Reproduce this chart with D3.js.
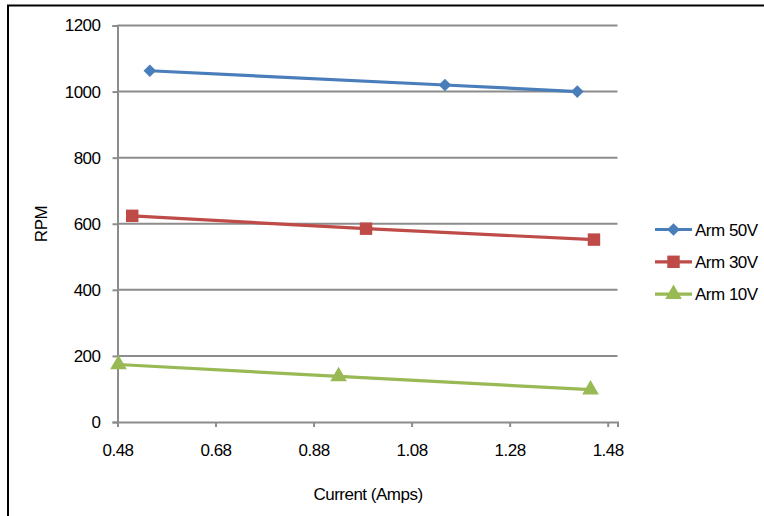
<!DOCTYPE html>
<html><head><meta charset="utf-8">
<script src="https://cdn.jsdelivr.net/npm/d3@7"></script>
<style>body{margin:0;background:#fff}svg{display:block;font-family:"Liberation Sans",Arial,sans-serif}</style>
</head><body><svg id="c" width="764" height="516"></svg>
<script>
const seriesNames = ["Arm 50V", "Arm 30V", "Arm 10V"];
const arm50X = [0.546, 1.148, 1.418];
const arm50Y = [1063, 1020, 1000];
const arm30X = [0.510, 0.987, 1.452];
const arm30Y = [624, 585, 552];
const arm10X = [0.482, 0.931, 1.445];
const arm10Y = [174, 138, 98];
const xTicks = [0.48, 0.68, 0.88, 1.08, 1.28, 1.48];
const yTicks = [0, 200, 400, 600, 800, 1000, 1200];
const xTitle = "Current (Amps)";
const yTitle = "RPM";

const colors = ["#4A7EBB", "#BE4B48", "#98B954"];
const symbols = [d3.symbolSquare, d3.symbolSquare, d3.symbolTriangle];
const symSizes = [80, 155, 120];
const series = [
  {name: seriesNames[0], xs: arm50X, ys: arm50Y},
  {name: seriesNames[1], xs: arm30X, ys: arm30Y},
  {name: seriesNames[2], xs: arm10X, ys: arm10Y}
];
const FS = 17, LS = -0.5;

const svg = d3.select("#c");
svg.append("rect").attr("x",8).attr("y",5.5).attr("width",800).attr("height",600)
  .attr("fill","#fff").attr("stroke","#000").attr("stroke-width",2);

const x = d3.scaleLinear().domain([0.48, 1.50]).range([117.5, 617.5]);
const y = d3.scaleLinear().domain([0, 1200]).range([422, 25.5]);
const grid = "#8c8c8c";

svg.append("g").selectAll("line").data(yTicks.filter(d=>d>0)).join("line")
  .attr("x1",117.5).attr("x2",617.5).attr("y1",d=>y(d)).attr("y2",d=>y(d))
  .attr("stroke",grid).attr("stroke-width",2);

function styleAxis(g){
  g.attr("font-size",FS).attr("font-family","Liberation Sans, Arial, sans-serif");
  g.select(".domain").attr("stroke",grid).attr("stroke-width",2);
  g.selectAll(".tick line").attr("stroke",grid).attr("stroke-width",2);
  g.selectAll("text").attr("font-size",FS).attr("fill","#000").attr("letter-spacing",LS);
}
svg.append("g").attr("transform","translate(117.5,0)")
  .call(d3.axisLeft(y).tickValues(yTicks).tickSize(5).tickPadding(12).tickFormat(d3.format("d")))
  .call(styleAxis);
svg.append("g").attr("transform","translate(0,422)")
  .call(d3.axisBottom(x).tickValues(xTicks).tickSize(5).tickPadding(17).tickFormat(d3.format(".2f")))
  .call(styleAxis);

svg.append("text").attr("x",368).attr("y",499.5).attr("text-anchor","middle")
  .attr("font-size",FS).attr("letter-spacing",LS).text(xTitle);
svg.append("text").attr("transform","translate(47,224) rotate(-90)").attr("text-anchor","middle")
  .attr("font-size",FS).attr("letter-spacing",LS).text(yTitle);

const line = d3.line().x(d=>x(d[0])).y(d=>y(d[1]));
const mk = i => d3.symbol().type(symbols[i]).size(symSizes[i])();
series.forEach((s,i)=>{
  const pts = s.xs.map((v,j)=>[v, s.ys[j]]);
  svg.append("path").attr("d",line(pts)).attr("fill","none")
    .attr("stroke",colors[i]).attr("stroke-width",3.2).attr("stroke-linejoin","round");
  svg.append("g").selectAll("path").data(pts).join("path")
    .attr("transform",d=>`translate(${x(d[0])},${y(d[1])})${i===0?" rotate(45)":""}`)
    .attr("d",mk(i)).attr("fill",colors[i]);
});

const lg = svg.append("g");
series.forEach((s,i)=>{
  const ly = 229.5 + i*32.3;
  lg.append("line").attr("x1",655).attr("x2",692).attr("y1",ly).attr("y2",ly)
    .attr("stroke",colors[i]).attr("stroke-width",3.2);
  lg.append("path").attr("transform",`translate(673.5,${ly})${i===0?" rotate(45)":""}`)
    .attr("d",mk(i)).attr("fill",colors[i]);
  lg.append("text").attr("x",695).attr("y",ly).attr("dy","0.36em")
    .attr("font-size",FS).attr("letter-spacing",LS).text(s.name);
});
</script></body></html>
